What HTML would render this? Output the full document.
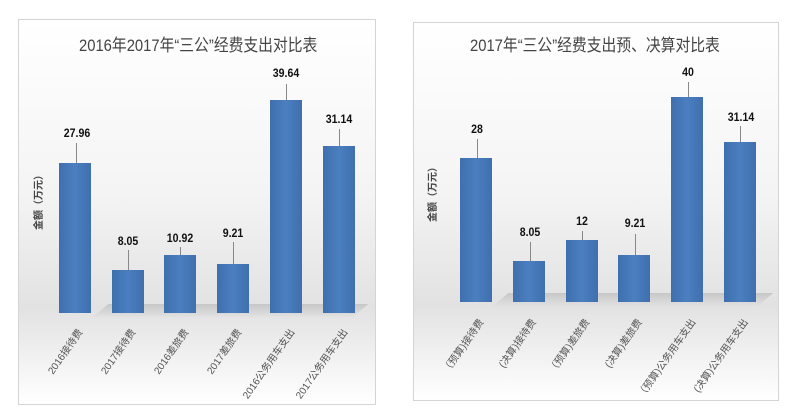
<!DOCTYPE html>
<html><head><meta charset="utf-8"><style>
body{margin:0;width:797px;height:416px;background:#fff;position:relative;overflow:hidden;font-family:"Liberation Sans","Noto Sans CJK SC",sans-serif}
.p{position:absolute;border:1px solid #d4d4d4;background:linear-gradient(#fff 0%,#f4f4f4 45%,#e2e2e2 75%,#fff 100%)}
.t{position:absolute;font-size:17px;color:#444;white-space:nowrap;transform-origin:0 0;transform:scaleX(0.87)}
.b{position:absolute;width:32px;background:linear-gradient(90deg,#3f6fae,#4b7fc0 50%,#3f6fae);}
.sh{position:absolute;height:14px;background:linear-gradient(#bbb,rgba(200,200,200,0));transform:skewX(-50deg);opacity:.7}
.v{position:absolute;font-size:12px;font-weight:bold;color:#111;width:60px;text-align:center;transform:scaleX(0.88)}
.l{position:absolute;width:1px;background:#888}
.c{position:absolute;font-size:10px;color:#555;white-space:nowrap;transform-origin:100% 50%;transform:rotate(-55deg);text-align:right}
.y{position:absolute;font-size:10px;font-weight:bold;color:#444;transform:rotate(-90deg);transform-origin:0 0;white-space:nowrap}
</style></head><body>
<div class="p" style="left:18px;top:19px;width:356px;height:384px"></div>
<div class="p" style="left:413px;top:22px;width:364px;height:377px"></div>
<div class="t" style="left:79px;top:31px">2016年2017年“三公”经费支出对比表</div>
<div class="t" style="left:470px;top:31px">2017年“三公”经费支出预、决算对比表</div>
<div class="y" style="left:30px;top:230px">金额（万元）</div>
<div class="y" style="left:424px;top:222px">金额（万元）</div>

<div class="sh" style="left:100px;top:304px;width:260px"></div>
<div class="b" style="left:59px;top:163px;height:150px"></div>
<div class="b" style="left:112px;top:270px;height:43px"></div>
<div class="b" style="left:164px;top:255px;height:58px"></div>
<div class="b" style="left:217px;top:264px;height:49px"></div>
<div class="b" style="left:270px;top:100px;height:213px"></div>
<div class="b" style="left:323px;top:146px;height:167px"></div>
<div class="v" style="left:47px;top:126px">27.96</div><div class="l" style="left:76px;top:143px;height:20px"></div>
<div class="v" style="left:98px;top:234px">8.05</div><div class="l" style="left:128px;top:250px;height:20px"></div>
<div class="v" style="left:150px;top:231px">10.92</div><div class="l" style="left:180px;top:247px;height:8px"></div>
<div class="v" style="left:203px;top:226px">9.21</div><div class="l" style="left:233px;top:242px;height:22px"></div>
<div class="v" style="left:256px;top:66px">39.64</div><div class="l" style="left:286px;top:84px;height:16px"></div>
<div class="v" style="left:309px;top:112px">31.14</div><div class="l" style="left:339px;top:129px;height:17px"></div>
<div class="c" style="right:718px;top:322px">2016接待费</div>
<div class="c" style="right:665px;top:322px">2017接待费</div>
<div class="c" style="right:612px;top:322px">2016差旅费</div>
<div class="c" style="right:559px;top:322px">2017差旅费</div>
<div class="c" style="right:506px;top:322px">2016公务用车支出</div>
<div class="c" style="right:453px;top:322px">2017公务用车支出</div>

<div class="sh" style="left:500px;top:293px;width:265px"></div>
<div class="b" style="left:460px;top:158px;height:144px"></div>
<div class="b" style="left:513px;top:261px;height:41px"></div>
<div class="b" style="left:566px;top:240px;height:62px"></div>
<div class="b" style="left:618px;top:255px;height:47px"></div>
<div class="b" style="left:671px;top:97px;height:205px"></div>
<div class="b" style="left:724px;top:142px;height:160px"></div>
<div class="v" style="left:447px;top:122px">28</div><div class="l" style="left:477px;top:139px;height:19px"></div>
<div class="v" style="left:500px;top:225px">8.05</div><div class="l" style="left:530px;top:242px;height:19px"></div>
<div class="v" style="left:552px;top:214px">12</div><div class="l" style="left:582px;top:231px;height:9px"></div>
<div class="v" style="left:605px;top:216px">9.21</div><div class="l" style="left:635px;top:234px;height:21px"></div>
<div class="v" style="left:658px;top:65px">40</div><div class="l" style="left:688px;top:82px;height:15px"></div>
<div class="v" style="left:711px;top:110px">31.14</div><div class="l" style="left:740px;top:126px;height:16px"></div>
<div class="c" style="right:317px;top:312px">（预算)接待费</div>
<div class="c" style="right:264px;top:312px">(决算)接待费</div>
<div class="c" style="right:211px;top:312px">（预算)差旅费</div>
<div class="c" style="right:158px;top:312px">(决算)差旅费</div>
<div class="c" style="right:105px;top:312px">（预算)公务用车支出</div>
<div class="c" style="right:52px;top:312px">(决算)公务用车支出</div>
</body></html>
